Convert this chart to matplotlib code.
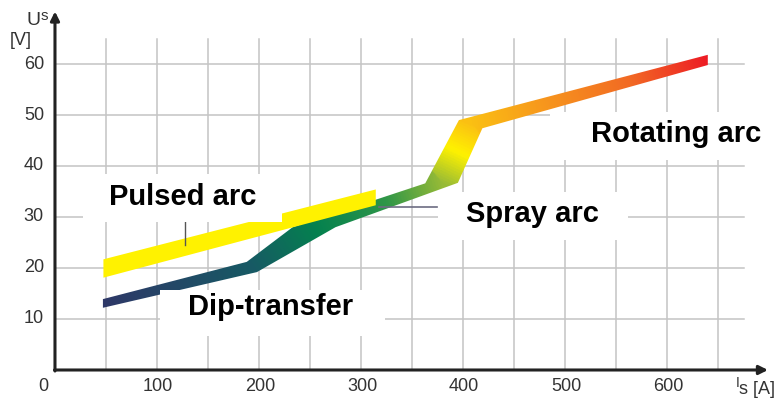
import numpy as np
import matplotlib.pyplot as plt
from matplotlib.patches import Polygon, Rectangle
from matplotlib.colors import LinearSegmentedColormap

# axis ticks
x_ticks = [0, 100, 200, 300, 400, 500, 600]
y_ticks = [10, 20, 30, 40, 50, 60]

# band outlines (current in A, voltage in V)
main_top_a = [47, 188, 233, 363, 396, 640]
main_top_v = [13.9, 21.2, 28.0, 36.6, 49.0, 61.8]
main_bot_a = [47, 198, 275, 395, 419, 640]
main_bot_v = [12.2, 19.2, 28.0, 36.7, 47.4, 59.8]
# centre line of the same band, used for the colour run
centre_a = [47, 193, 254, 380, 408, 640]
centre_v = [13.05, 20.2, 28.0, 36.6, 48.2, 60.8]

pulsed_a = [47, 314]
pulsed_top_v = [21.8, 35.5]
pulsed_bot_v = [18.2, 32.4]

# region labels
labels = ["Pulsed arc", "Dip-transfer", "Spray arc", "Rotating arc"]
label_a = [125, 211, 468, 609]
label_v = [33.9, 12.3, 30.6, 46.3]
# white boxes behind the labels: a0, a1, v0, v1
label_box = [(27.5, 222.5, 29.0, 38.4),
             (103, 323.5, 6.7, 15.7),
             (375.5, 562, 25.5, 34.9),
             (485, 701, 41.2, 50.5)]

band_colors = [(0.0, "#2e3868"), (0.2275, "#175a64"), (0.337, "#04814f"),
               (0.45, "#2f9648"), (0.5386, "#98bb36"), (0.59, "#fff200"),
               (0.636, "#fbc013"), (0.75, "#f7961d"), (0.88, "#f26a24"),
               (1.0, "#ed1c24")]

fig = plt.figure(figsize=(7.74, 4.01), dpi=100)
ax = fig.add_axes([0, 0, 1, 1])
xlim = (-53.9, 704.9)
ylim = (-6.08, 72.55)

# grid
for a in range(50, 651, 50):
    ax.plot([a, a], [0, 65], color="#c4c4c4", lw=1.1, zorder=1)
for v in y_ticks:
    ax.plot([0, 675], [v, v], color="#c4c4c4", lw=1.1, zorder=1)

# main band with colour running along it
poly = Polygon(list(zip(main_top_a, main_top_v)) + list(zip(main_bot_a, main_bot_v))[::-1],
               closed=True, facecolor="none", edgecolor="none")
ax.add_patch(poly)

sx, sy = 1.02, 5.1  # pixels per A / per V
ca = np.array(centre_a) * sx
cv = np.array(centre_v) * sy
seg = np.hypot(np.diff(ca), np.diff(cv))
cum = np.concatenate([[0], np.cumsum(seg)])
ga = np.linspace(40, 648, 800)
gv = np.linspace(10, 64, 300)
GA, GV = np.meshgrid(ga * sx, gv * sy)
best_d = np.full(GA.shape, np.inf)
best_s = np.zeros(GA.shape)
for i in range(len(seg)):
    dx, dy = ca[i + 1] - ca[i], cv[i + 1] - cv[i]
    t = ((GA - ca[i]) * dx + (GV - cv[i]) * dy) / (dx * dx + dy * dy)
    t = np.clip(t, 0, 1)
    d = np.hypot(GA - ca[i] - t * dx, GV - cv[i] - t * dy)
    m = d < best_d
    best_d[m] = d[m]
    best_s[m] = (cum[i] + t * seg[i])[m]
cmap = LinearSegmentedColormap.from_list("arc", band_colors)
im = ax.imshow(cmap(best_s / cum[-1]), extent=(ga[0], ga[-1], gv[0], gv[-1]),
               origin="lower", aspect="auto", zorder=3, interpolation="bilinear")
im.set_clip_path(poly)

# pulsed arc band
ax.fill_between(pulsed_a, pulsed_bot_v, pulsed_top_v, color="#fff200", lw=0, zorder=4)

# thin leftover lines
ax.plot([318, 375], [32, 32], color="#6c6c82", lw=1.2, zorder=5)
ax.plot([127, 127], [24.5, 29], color="#555555", lw=1, zorder=5)

# label boxes and labels
for (a0, a1, v0, v1), txt, a, v in zip(label_box, labels, label_a, label_v):
    ax.add_patch(Rectangle((a0, v0), a1 - a0, v1 - v0, facecolor="white",
                           edgecolor="none", zorder=6))
    ax.text(a, v, txt, ha="center", va="center", fontsize=21, fontweight="bold",
            family=["Liberation Sans", "DejaVu Sans"], color="black", zorder=7)

# axes with arrows
ax.annotate("", xy=(0, 70.3), xytext=(0, -0.2),
            arrowprops=dict(arrowstyle="-|>", color="#222222", lw=2.2,
                            mutation_scale=13, shrinkA=0, shrinkB=0), zorder=8)
ax.annotate("", xy=(699, 0), xytext=(-0.5, 0),
            arrowprops=dict(arrowstyle="-|>", color="#222222", lw=2.2,
                            mutation_scale=13, shrinkA=0, shrinkB=0), zorder=8)

tick_font = ["Liberation Sans Narrow", "Liberation Sans", "DejaVu Sans"]
for v in y_ticks:
    ax.text(-10.8, v, str(v), ha="right", va="center", fontsize=13,
            family=tick_font, color="#333333")
for a in x_ticks[1:]:
    ax.text(a + 1, -3.3, str(a), ha="center", va="center", fontsize=13,
            family=tick_font, color="#333333")
ax.text(-11, -3.3, "0", ha="center", va="center", fontsize=13,
        family=tick_font, color="#333333")

# axis titles
ax.text(-28, 68.6, "U", ha="left", va="center", fontsize=14, family=tick_font, color="#333333")
ax.text(-14.3, 69.5, "s", ha="left", va="center", fontsize=11, family=tick_font, color="#333333")
ax.text(-44, 64.6, "[V]", ha="left", va="center", fontsize=13, family=tick_font, color="#333333")
ax.text(667, -2.5, "I", ha="left", va="center", fontsize=10, family=tick_font, color="#333333")
ax.text(671, -3.8, "s [A]", ha="left", va="center", fontsize=13, family=tick_font, color="#333333")

ax.set_xlim(*xlim)
ax.set_ylim(*ylim)
ax.axis("off")
fig.savefig("out.png", dpi=100)
